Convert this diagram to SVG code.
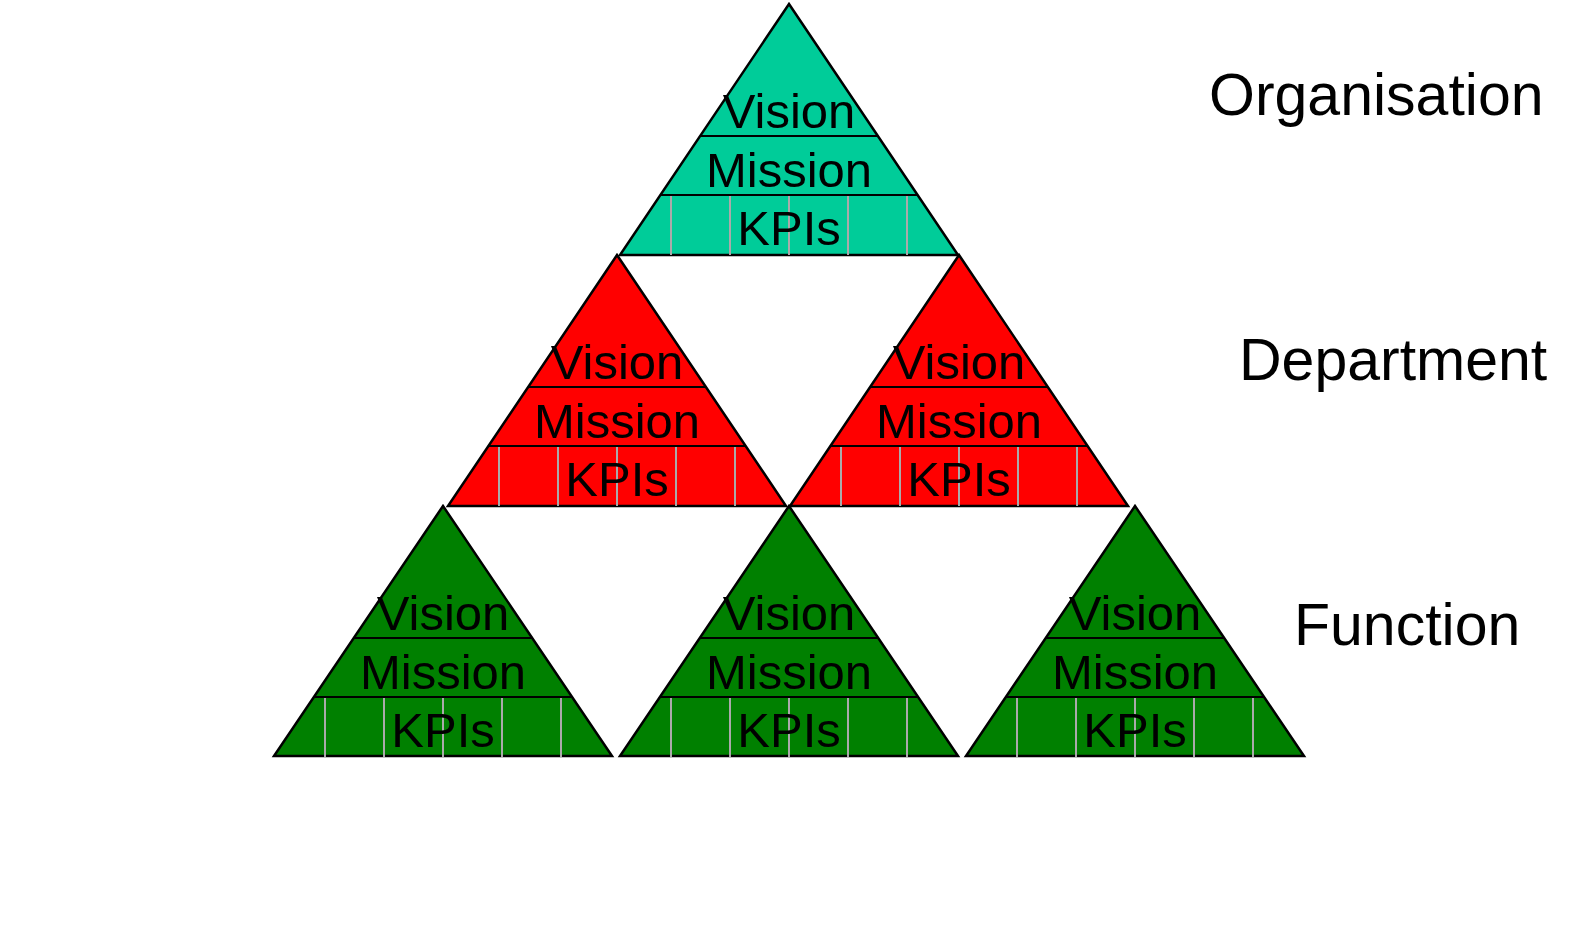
<svg xmlns="http://www.w3.org/2000/svg" xmlns:xlink="http://www.w3.org/1999/xlink" width="1581" height="948" viewBox="0 0 1581 948">
<style>
.tri{stroke:#000;stroke-width:2.5;stroke-linejoin:miter}
.ln{stroke:#000;stroke-width:2}
.gl{stroke:#aaa;stroke-width:2}
.t{font-family:"Liberation Sans",Arial,sans-serif;font-size:49px;text-anchor:middle;fill:#000}
.lab{font-family:"Liberation Sans",Arial,sans-serif;font-size:59px;fill:#000}
.teal{fill:#00CC99}.red{fill:#FF0000}.green{fill:#008000}
</style>
<defs>
<g id="inner">
<line class="gl" x1="-118" y1="191" x2="-118" y2="251"/>
<line class="gl" x1="-59" y1="191" x2="-59" y2="251"/>
<line class="gl" x1="0" y1="191" x2="0" y2="251"/>
<line class="gl" x1="59" y1="191" x2="59" y2="251"/>
<line class="gl" x1="118" y1="191" x2="118" y2="251"/>
<line class="ln" x1="-88.9" y1="132" x2="88.9" y2="132"/>
<line class="ln" x1="-128.6" y1="191" x2="128.6" y2="191"/>
<text class="t" x="0" y="124">Vision</text>
<text class="t" x="0" y="183">Mission</text>
<text class="t" x="0" y="241">KPIs</text>
</g>
</defs>
<g id="org" transform="translate(789,4)"><polygon class="tri teal" points="0,0 169,251 -169,251"/><use xlink:href="#inner"/></g>
<g id="dept1" transform="translate(617,255)"><polygon class="tri red" points="0,0 169,251 -169,251"/><use xlink:href="#inner"/></g>
<g id="dept2" transform="translate(959,255)"><polygon class="tri red" points="0,0 169,251 -169,251"/><use xlink:href="#inner"/></g>
<g id="func1" transform="translate(443,506)"><polygon class="tri green" points="0,0 169,250 -169,250"/><use xlink:href="#inner"/></g>
<g id="func2" transform="translate(789,506)"><polygon class="tri green" points="0,0 169,250 -169,250"/><use xlink:href="#inner"/></g>
<g id="func3" transform="translate(1135,506)"><polygon class="tri green" points="0,0 169,250 -169,250"/><use xlink:href="#inner"/></g>
<g id="labels">
<text class="lab" x="1209" y="115">Organisation</text>
<text class="lab" x="1239" y="380">Department</text>
<text class="lab" x="1294" y="645">Function</text>
</g>
</svg>
